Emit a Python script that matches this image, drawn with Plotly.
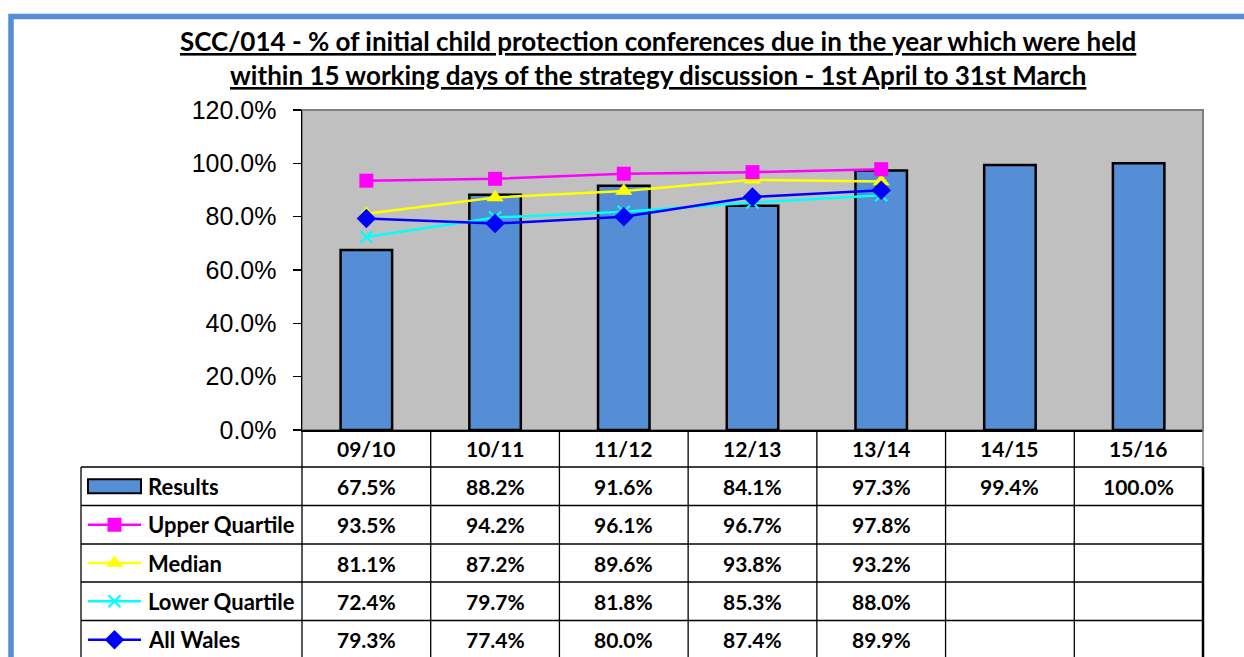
import plotly.graph_objects as go

# ---------------- data ----------------
categories = ["09/10", "10/11", "11/12", "12/13", "13/14", "14/15", "15/16"]
results = [67.5, 88.2, 91.6, 84.1, 97.3, 99.4, 100.0]
upper_quartile = [93.5, 94.2, 96.1, 96.7, 97.8]
median = [81.1, 87.2, 89.6, 93.8, 93.2]
lower_quartile = [72.4, 79.7, 81.8, 85.3, 88.0]
all_wales = [79.3, 77.4, 80.0, 87.4, 89.9]
y_tick_values = [0, 20, 40, 60, 80, 100, 120]
y_tick_labels = ["0.0%", "20.0%", "40.0%", "60.0%", "80.0%", "100.0%", "120.0%"]
series_names = ["Results", "Upper Quartile", "Median", "Lower Quartile", "All Wales"]
title_line1 = "SCC/014 - % of initial child protection conferences due in the year which were held"
title_line2 = "within 15 working days of the strategy discussion - 1st April to 31st March"

# ---------------- layout geometry (pixels) ----------------
W, H = 1244, 657
PX_L, PX_R = 302, 1203
PX_T, PX_B = 110, 430
ROW_EDGES = [430, 467, 505.5, 544, 582, 620.5, 659]
LEG_L = 81
KEY_X0, KEY_X1 = 88, 141
LABEL_X = 146

BAR_COLOR = "#558ED5"
line_styles = {
    "Upper Quartile": dict(color="#FF00FF", symbol="square", size=14, lw=0),
    "Median": dict(color="#FFFF00", symbol="triangle-up", size=15, lw=0),
    "Lower Quartile": dict(color="#00FFFF", symbol="x-thin", size=12, lw=2.2),
    "All Wales": dict(color="#0000FF", symbol="diamond", size=15, lw=0),
}
line_data = {
    "Upper Quartile": upper_quartile,
    "Median": median,
    "Lower Quartile": lower_quartile,
    "All Wales": all_wales,
}
table_values = {"Results": results, **line_data}

FONT_FAMILY = "Lato, 'Open Sans', sans-serif"
VALUE_FONT = dict(family=FONT_FAMILY, size=21, color="black")
LABEL_FONT = dict(family=FONT_FAMILY, size=22, color="black")

fig = go.Figure()

# bars
fig.add_trace(go.Bar(
    x=categories, y=results, width=0.4,
    marker=dict(color=BAR_COLOR, line=dict(color="black", width=2.5)),
    showlegend=False,
))

# lines
for name in ["Lower Quartile", "Median", "All Wales", "Upper Quartile"]:
    st = line_styles[name]
    vals = line_data[name]
    fig.add_trace(go.Scatter(
        x=categories[:len(vals)], y=vals, mode="lines+markers", name=name,
        line=dict(color=st["color"], width=2.5),
        marker=dict(symbol=st["symbol"], size=st["size"], color=st["color"],
                    line=dict(color=st["color"], width=st["lw"])),
        showlegend=False,
    ))

# legend keys in the table (pixel overlay axes)
row_centers = [(ROW_EDGES[i] + ROW_EDGES[i + 1]) / 2 for i in range(len(ROW_EDGES) - 1)]
key_cx = (KEY_X0 + KEY_X1) / 2
for i, name in enumerate(series_names[1:], start=2):
    st = line_styles[name]
    yc = row_centers[i]
    fig.add_trace(go.Scatter(
        x=[KEY_X0, KEY_X1], y=[yc, yc], mode="lines", xaxis="x2", yaxis="y2",
        line=dict(color=st["color"], width=2.5), showlegend=False,
    ))
    fig.add_trace(go.Scatter(
        x=[key_cx], y=[yc], mode="markers", xaxis="x2", yaxis="y2",
        marker=dict(symbol=st["symbol"], size=st["size"], color=st["color"],
                    line=dict(color=st["color"], width=st["lw"])),
        showlegend=False,
    ))

shapes = []
# plot area background + border
shapes.append(dict(type="rect", xref="x domain", yref="y domain", x0=0, x1=1, y0=0, y1=1,
                   fillcolor="#C0C0C0", line=dict(color="#808080", width=2), layer="below"))
# bar key
shapes.append(dict(type="rect", xref="x2", yref="y2", x0=KEY_X0, x1=KEY_X1,
                   y0=row_centers[1] - 7, y1=row_centers[1] + 7,
                   fillcolor=BAR_COLOR, line=dict(color="black", width=2)))
# table horizontal lines
for yv in ROW_EDGES[1:-1]:
    shapes.append(dict(type="line", xref="x2", yref="y2", x0=LEG_L, x1=PX_R, y0=yv, y1=yv,
                       line=dict(color="black", width=1.3)))
# table vertical lines
shapes.append(dict(type="line", xref="x2", yref="y2", x0=LEG_L, x1=LEG_L, y0=ROW_EDGES[1], y1=H + 5,
                   line=dict(color="black", width=1.3)))
shapes.append(dict(type="line", xref="x2", yref="y2", x0=PX_L, x1=PX_L, y0=PX_B, y1=H + 5,
                   line=dict(color="black", width=1.3)))
for i in range(len(categories) - 1):
    shapes.append(dict(type="line", xref="x", yref="y2", x0=i + 0.5, x1=i + 0.5, y0=PX_B, y1=H + 5,
                       line=dict(color="black", width=1.3)))
shapes.append(dict(type="line", xref="x2", yref="y2", x0=PX_R, x1=PX_R, y0=PX_B, y1=ROW_EDGES[1],
                   line=dict(color="#808080", width=1.5)))
shapes.append(dict(type="line", xref="x2", yref="y2", x0=PX_R, x1=PX_R, y0=ROW_EDGES[1], y1=H + 5,
                   line=dict(color="black", width=2.5)))
# blue outer frame
shapes.append(dict(type="rect", xref="x2", yref="y2", x0=11, x1=W + 20, y0=16.5, y1=H + 20,
                   line=dict(color="#558ED5", width=5.5), fillcolor="rgba(0,0,0,0)"))

annotations = []
# title
TITLE_FONT = dict(family=FONT_FAMILY, size=26, color="black")
annotations.append(dict(xref="x2", yref="y2", x=657.5, y=59, xanchor="center", yanchor="bottom",
                        text="<b><u>" + title_line1 + "</u></b>", showarrow=False, font=TITLE_FONT))
annotations.append(dict(xref="x2", yref="y2", x=657.5, y=93, xanchor="center", yanchor="bottom",
                        text="<b><u>" + title_line2 + "</u></b>", showarrow=False, font=TITLE_FONT))
# header row
for c in categories:
    annotations.append(dict(xref="x", yref="y2", x=c, y=row_centers[0], text="<b>" + c + "</b>",
                            showarrow=False, xanchor="center", yanchor="middle", font=VALUE_FONT))
# series labels + values
for r, name in enumerate(series_names, start=1):
    annotations.append(dict(xref="x2", yref="y2", x=LABEL_X, y=row_centers[r], text="<b>" + name + "</b>",
                            showarrow=False, xanchor="left", yanchor="middle", font=LABEL_FONT))
    for c, v in zip(categories, table_values[name]):
        annotations.append(dict(xref="x", yref="y2", x=c, y=row_centers[r], text=f"<b>{v:.1f}%</b>",
                                showarrow=False, xanchor="center", yanchor="middle", font=VALUE_FONT))

fig.update_layout(
    width=W, height=H, autosize=False,
    margin=dict(l=0, r=0, t=0, b=0, pad=0, autoexpand=False),
    paper_bgcolor="white", plot_bgcolor="rgba(0,0,0,0)",
    hovermode=False,
    shapes=shapes, annotations=annotations,
    xaxis=dict(domain=[PX_L / W, PX_R / W], type="category", range=[-0.5, len(categories) - 0.5],
               showticklabels=False, ticks="", showgrid=False, zeroline=False, automargin=False,
               showline=True, linecolor="black", linewidth=1.5, fixedrange=True),
    yaxis=dict(domain=[1 - PX_B / H, 1 - PX_T / H], range=[0, 120], automargin=False,
               tickvals=y_tick_values, ticktext=y_tick_labels,
               ticks="outside", ticklen=8, tickcolor="black", tickwidth=1.3,
               ticklabelstandoff=11,
               tickfont=dict(family="Liberation Sans, Arial, sans-serif", size=25, color="black"),
               showgrid=False, zeroline=False, showline=True, linecolor="black", linewidth=1.5,
               fixedrange=True),
    xaxis2=dict(domain=[0, 1], range=[0, W], visible=False, fixedrange=True, anchor="y2",
                automargin=False),
    yaxis2=dict(domain=[0, 1], range=[H, 0], visible=False, fixedrange=True, anchor="x2",
                automargin=False),
)

fig.write_html(
    "out.html",
    config={"displayModeBar": False, "staticPlot": True},
    post_script=(
        "var d=document.getElementById('{plot_id}');"
        "d.style.position='fixed';d.style.top='0px';d.style.left='0px';"
        "document.documentElement.style.overflow='hidden';"
        "document.body.style.margin='0';document.body.style.overflow='hidden';"
    ),
)
